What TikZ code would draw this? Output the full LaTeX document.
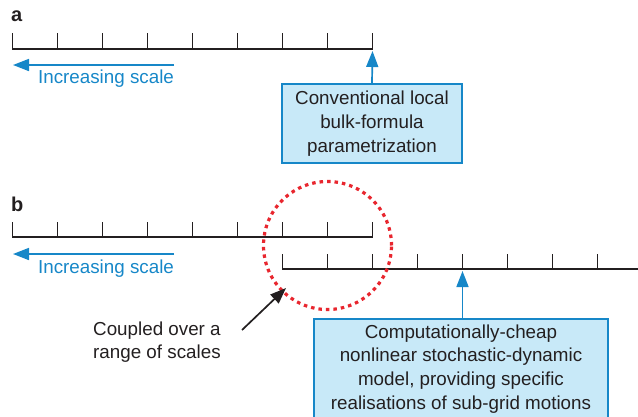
\documentclass[tikz,border=0pt]{standalone}
\usepackage{fontspec}
\setmainfont{Liberation Sans}
\usetikzlibrary{arrows.meta}
\definecolor{sblue}{RGB}{22,135,200}
\definecolor{sfill}{RGB}{200,233,248}
\definecolor{sred}{RGB}{232,38,46}
\definecolor{stext}{RGB}{35,31,32}
\begin{document}
\begin{tikzpicture}[x=1pt,y=-1pt,
  ruler/.style={line width=1.8pt, draw=stext},
  bluearrow/.style={draw=sblue, line width=1.7pt, -{Triangle[width=12pt,length=16pt,fill=sblue]}},
  infobox/.style={draw=sblue, line width=1.7pt, fill=sfill, text=stext, align=center,
    font=\fontsize{18.8}{23.8}\selectfont, inner sep=0pt},
  panellbl/.style={font=\bfseries\fontsize{20}{22}\selectfont, text=stext, inner sep=0pt, anchor=base west},
  scaletxt/.style={font=\fontsize{18.8}{22}\selectfont, text=sblue, inner sep=0pt, anchor=base},
  plaintxt/.style={font=\fontsize{18.8}{22.5}\selectfont, text=stext, inner sep=0pt, align=left},
  blackarrow/.style={draw=stext, line width=1.7pt, -{Triangle[width=12pt,length=16pt,fill=stext]}}]
\useasboundingbox (0,0) rectangle (638,416);

% ---------- panel a ----------
\node[panellbl] (la) at (11,21) {a};
\draw[ruler] (12.5,33) -- (12.5,49) -- (372.5,49) -- (372.5,33);
\foreach \i in {1,...,7} \draw[ruler] (12.5+45*\i,33) -- (12.5+45*\i,49);
\coordinate (aArrS) at (174,65);
\coordinate (aArrE) at (13,65);
\draw[bluearrow] (aArrS) -- (aArrE);
\node[scaletxt] (aInc) at (106,83) {Increasing scale};
\node[infobox, minimum width=180pt, minimum height=79pt] (boxA) at (372,123.5)
  {Conventional local\\bulk-formula\\parametrization};
\coordinate (aTip) at (372.5,51);
\draw[bluearrow] (boxA.north) -- (aTip);

% ---------- panel b ----------
\node[panellbl] (lb) at (11,211) {b};
\draw[ruler] (12.5,222) -- (12.5,237) -- (372.5,237) -- (372.5,222);
\foreach \i in {1,...,7} \draw[ruler] (12.5+45*\i,222) -- (12.5+45*\i,237);
\coordinate (bArrS) at (174,254);
\coordinate (bArrE) at (13,254);
\draw[bluearrow] (bArrS) -- (bArrE);
\node[scaletxt] (bInc) at (106,273) {Increasing scale};

\draw[ruler] (282.5,254) -- (282.5,269) -- (640,269);
\foreach \i in {1,...,7} \draw[ruler] (282.5+45*\i,254) -- (282.5+45*\i,269);

\node[circle, draw=sred, line width=3.2pt, dash pattern=on 3.5pt off 4pt,
  minimum size=128pt, inner sep=0pt] (couple) at (327.5,245.5) {};

\node[infobox, minimum width=294pt, minimum height=100pt, anchor=north] (boxB) at (461,318)
  {Computationally-cheap\\nonlinear stochastic-dynamic\\model, providing specific\\realisations of sub-grid motions};
\coordinate (bTip) at (462.5,271);
\draw[bluearrow] (boxB.north -| bTip) -- (bTip);

\node[plaintxt, anchor=west] (coupTxt) at (93,342) {Coupled over a\\range of scales};
\coordinate (cStart) at (242,330);
\coordinate (cTip) at (286,288);
\draw[blackarrow] (cStart) -- (cTip);
\end{tikzpicture}
\end{document}
